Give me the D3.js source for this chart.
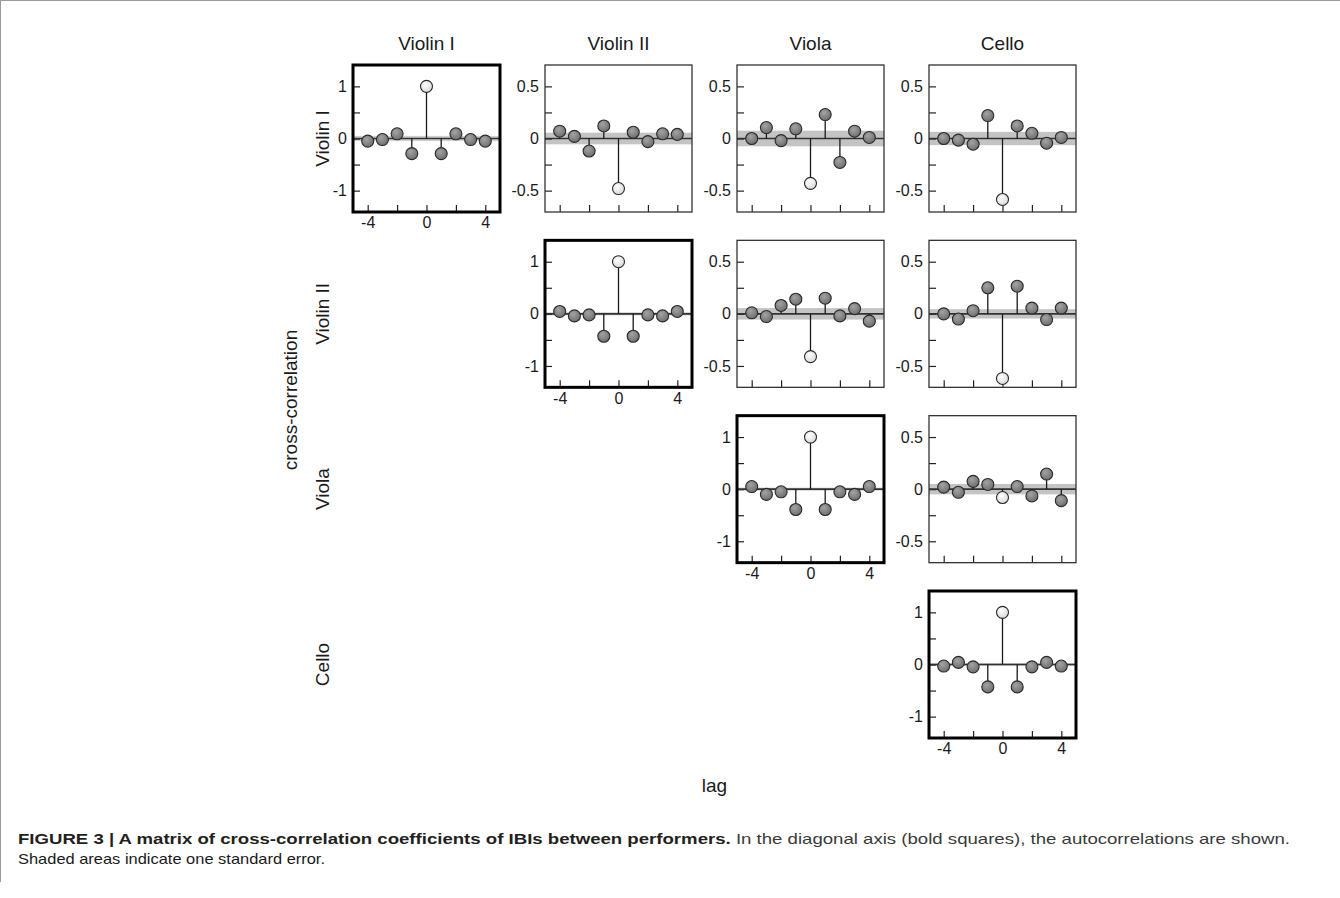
<!DOCTYPE html>
<html lang="en">
<head>
<meta charset="UTF-8">
<script src="https://d3js.org/d3.v7.min.js"></script>
<style>
  body { margin: 0; background: #fff; }
  text { font-family: "Liberation Sans", Arial, sans-serif; fill: #1a1a1a; }
</style>
</head>
<body>
<svg id="chart" width="1340" height="898"></svg>
<script>
// instruments and lags
var instruments = ["Violin I", "Violin II", "Viola", "Cello"];
var lags = [-4, -3, -2, -1, 0, 1, 2, 3, 4];

// correlation values per pair (lag -4..4)
var violin1Violin1 = [-0.05, -0.02, 0.09, -0.29, 1, -0.29, 0.09, -0.02, -0.05];
var violin1Violin2 = [0.07, 0.02, -0.12, 0.12, -0.48, 0.06, -0.03, 0.045, 0.04];
var violin1Viola   = [0.0, 0.105, -0.02, 0.093, -0.43, 0.23, -0.23, 0.07, 0.01];
var violin1Cello   = [0.0, -0.016, -0.055, 0.22, -0.585, 0.12, 0.05, -0.045, 0.01];
var violin2Violin2 = [0.045, -0.04, -0.02, -0.43, 1, -0.43, -0.02, -0.04, 0.045];
var violin2Viola   = [0.01, -0.026, 0.08, 0.14, -0.41, 0.15, -0.02, 0.05, -0.07];
var violin2Cello   = [0.0, -0.05, 0.03, 0.25, -0.62, 0.265, 0.055, -0.055, 0.055];
var violaViola     = [0.05, -0.1, -0.05, -0.39, 1, -0.39, -0.05, -0.1, 0.05];
var violaCello     = [0.02, -0.03, 0.075, 0.045, -0.08, 0.025, -0.065, 0.145, -0.11];
var celloCello     = [-0.03, 0.04, -0.045, -0.43, 1, -0.43, -0.045, 0.04, -0.03];

// standard error bands (row, col)
var stdErrors = [
  [0.05, 0.056, 0.075, 0.064],
  [null, 0.03, 0.055, 0.045],
  [null, null, 0.03, 0.05],
  [null, null, null, 0.03]
];

var autoTicks = [-1, -0.5, 0, 0.5, 1];
var crossTicks = [-0.5, -0.25, 0, 0.25, 0.5];
var lagTicks = [-4, -2, 0, 2, 4];

var panels = [
  {row: 0, col: 0, values: violin1Violin1},
  {row: 0, col: 1, values: violin1Violin2},
  {row: 0, col: 2, values: violin1Viola},
  {row: 0, col: 3, values: violin1Cello},
  {row: 1, col: 1, values: violin2Violin2},
  {row: 1, col: 2, values: violin2Viola},
  {row: 1, col: 3, values: violin2Cello},
  {row: 2, col: 2, values: violaViola},
  {row: 2, col: 3, values: violaCello},
  {row: 3, col: 3, values: celloCello}
];

var svg = d3.select("#chart");
var size = 147;
var colPos = d3.scaleLinear().domain([0, 3]).range([353, 929]);
var rowPos = d3.scaleLinear().domain([0, 3]).range([65, 591]);

// plain hyphen instead of unicode minus
function lbl(d) { return String(d); }

// gradients for the markers
var defs = svg.append("defs");
function grad(id, c1, c2) {
  var g = defs.append("radialGradient").attr("id", id)
    .attr("cx", "40%").attr("cy", "35%").attr("r", "65%");
  g.append("stop").attr("offset", "0%").attr("stop-color", c1);
  g.append("stop").attr("offset", "100%").attr("stop-color", c2);
}
grad("gGray", "#a3a3a3", "#6f6f6f");
grad("gWhite", "#ffffff", "#dadada");

// frame of the figure
svg.append("line").attr("x1", 0).attr("x2", 1340).attr("y1", 0.5).attr("y2", 0.5)
  .attr("stroke", "#9a9a9a");
svg.append("line").attr("x1", 0.5).attr("x2", 0.5).attr("y1", 0).attr("y2", 882)
  .attr("stroke", "#9a9a9a");

// column titles and row labels
instruments.forEach(function(name, i) {
  svg.append("text").attr("x", colPos(i) + size / 2).attr("y", 50)
    .attr("text-anchor", "middle").attr("font-size", 19).text(name);
  svg.append("text")
    .attr("transform", "translate(329," + (rowPos(i) + size / 2) + ") rotate(-90)")
    .attr("text-anchor", "middle").attr("font-size", 19).text(name);
});

svg.append("text")
  .attr("transform", "translate(297,400) rotate(-90)")
  .attr("text-anchor", "middle").attr("font-size", 19).text("cross-correlation");

svg.append("text").attr("x", (colPos(0) + colPos(3) + size) / 2).attr("y", 792)
  .attr("text-anchor", "middle").attr("font-size", 19).text("lag");

// draw each panel
panels.forEach(function(p) {
  var auto = p.row === p.col;
  var g = svg.append("g")
    .attr("transform", "translate(" + colPos(p.col) + "," + rowPos(p.row) + ")");
  var x = d3.scaleLinear().domain([-5, 5]).range([0, size]);
  var y = d3.scaleLinear().domain(auto ? [-1.41, 1.41] : [-0.705, 0.705]).range([size, 0]);
  var se = stdErrors[p.row][p.col];

  // shaded standard error
  g.append("rect").attr("x", 0).attr("width", size)
    .attr("y", y(se)).attr("height", y(-se) - y(se))
    .attr("fill", auto ? "#d0d0d0" : "#c4c4c4");

  // y axis, ticks inside
  var yAxis = d3.axisLeft(y)
    .tickValues(auto ? autoTicks : crossTicks)
    .tickSizeInner(-7).tickSizeOuter(0).tickPadding(6)
    .tickFormat(function(d) {
      if (auto) return (d === 0.5 || d === -0.5) ? "" : lbl(d);
      return (d === 0.25 || d === -0.25) ? "" : lbl(d);
    });
  var ya = g.append("g").call(yAxis);
  ya.select(".domain").remove();
  ya.selectAll("line").attr("stroke", "#222").attr("stroke-width", 1.2);
  ya.selectAll("text").attr("font-size", 16).attr("fill", "#1a1a1a")
    .attr("font-family", "Liberation Sans, Arial, sans-serif");

  // x axis, ticks inside
  var xAxis = d3.axisBottom(x)
    .tickValues(lagTicks)
    .tickSizeInner(-7).tickSizeOuter(0).tickPadding(5)
    .tickFormat(function(d) { return auto && (d !== -2 && d !== 2) ? lbl(d) : ""; });
  var xa = g.append("g").attr("transform", "translate(0," + size + ")").call(xAxis);
  xa.select(".domain").remove();
  xa.selectAll("line").attr("stroke", "#222").attr("stroke-width", 1.2);
  xa.selectAll("text").attr("font-size", 16).attr("fill", "#1a1a1a")
    .attr("font-family", "Liberation Sans, Arial, sans-serif");

  // zero line
  g.append("line").attr("x1", 0).attr("x2", size).attr("y1", y(0)).attr("y2", y(0))
    .attr("stroke", "#333").attr("stroke-width", 1.6);

  var pts = lags.map(function(l, i) { return {lag: l, v: p.values[i]}; });

  // stems
  g.selectAll(".stem").data(pts).enter().append("line")
    .attr("x1", function(d) { return x(d.lag); })
    .attr("x2", function(d) { return x(d.lag); })
    .attr("y1", y(0))
    .attr("y2", function(d) { return y(d.v); })
    .attr("stroke", "#1a1a1a").attr("stroke-width", 1.3);

  // markers
  g.selectAll(".dot").data(pts).enter().append("circle")
    .attr("cx", function(d) { return x(d.lag); })
    .attr("cy", function(d) { return y(d.v); })
    .attr("r", 6)
    .attr("fill", function(d) { return d.lag === 0 ? "url(#gWhite)" : "url(#gGray)"; })
    .attr("stroke", "#2a2a2a").attr("stroke-width", 1.1);

  // frame
  g.append("rect").attr("width", size).attr("height", size)
    .attr("fill", "none").attr("stroke", auto ? "#000" : "#333")
    .attr("stroke-width", auto ? 3 : 1.3);
});

// caption
var cap = svg.append("text").attr("x", 18).attr("y", 844).attr("font-size", 15)
  .attr("textLength", 1272).attr("lengthAdjust", "spacingAndGlyphs");
cap.append("tspan").attr("font-weight", "bold").attr("fill", "#231f20")
  .text("FIGURE 3 | A matrix of cross-correlation coefficients of IBIs between performers.");
cap.append("tspan").attr("fill", "#3a3a3a")
  .text(" In the diagonal axis (bold squares), the autocorrelations are shown.");
svg.append("text").attr("x", 18).attr("y", 864).attr("font-size", 15)
  .attr("textLength", 307).attr("lengthAdjust", "spacingAndGlyphs")
  .attr("fill", "#3a3a3a").text("Shaded areas indicate one standard error.");
</script>
</body>
</html>
